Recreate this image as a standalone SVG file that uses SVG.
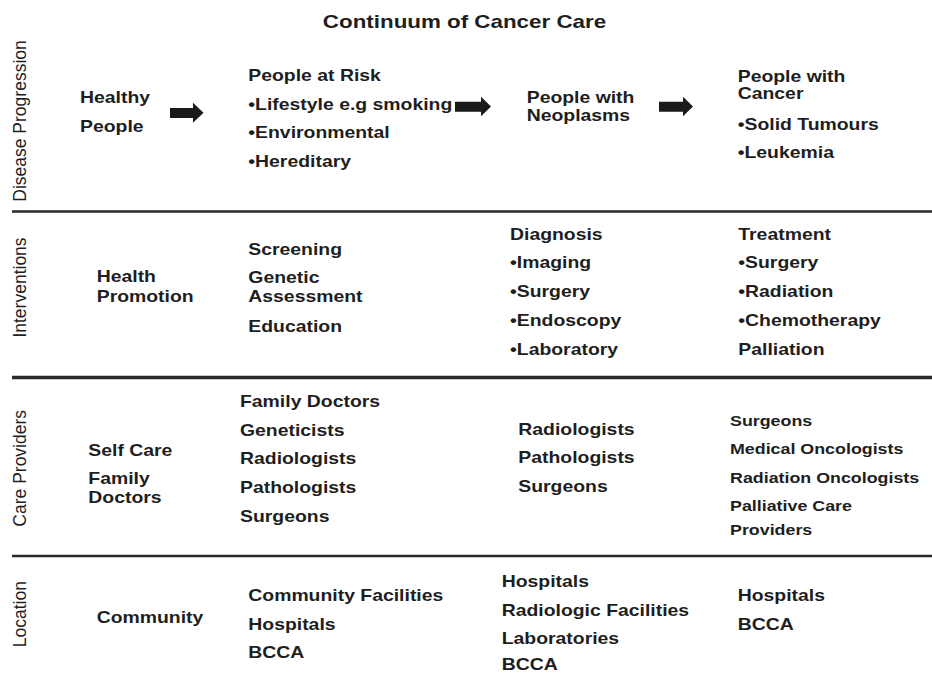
<svg xmlns="http://www.w3.org/2000/svg" width="932" height="673" viewBox="0 0 932 673">
<style>
.t{font-family:"Liberation Sans",Arial,sans-serif;font-weight:bold;font-size:16.3px;fill:#1e1e1e}
.s{font-size:15px}
.title{font-family:"Liberation Sans",Arial,sans-serif;font-weight:bold;font-size:18.8px;fill:#1e1e1e;text-anchor:middle}
.rl{font-family:"Liberation Sans",Arial,sans-serif;font-size:17.5px;fill:#1e1e1e;text-anchor:middle}
.sep{stroke:#2a2a2a;fill:none}
.arr{fill:#1a1a1a}
</style>
<rect width="932" height="673" fill="#ffffff"/>
<g id="title"><text class="title" transform="translate(464.5 28.3) scale(1.19 1)">Continuum of Cancer Care</text></g>
<g id="separators">
<line class="sep" x1="12" y1="211.5" x2="932" y2="211.5" stroke-width="2.5"/>
<line class="sep" x1="12" y1="377.5" x2="932" y2="377.5" stroke-width="3.5"/>
<line class="sep" x1="12" y1="556" x2="932" y2="556" stroke-width="2.5"/>
</g>
<g id="row-labels">
<text class="rl" transform="translate(26 121) rotate(-90)">Disease Progression</text>
<text class="rl" transform="translate(26 287.5) rotate(-90)">Interventions</text>
<text class="rl" transform="translate(26 468.3) rotate(-90)">Care Providers</text>
<text class="rl" transform="translate(26 614.2) rotate(-90)">Location</text>
</g>
<g id="healthy-people"><text class="t" transform="translate(80 102.7) scale(1.19 1)"><tspan x="0" y="0">Healthy</tspan><tspan x="0" y="29">People</tspan></text></g>
<g id="people-at-risk"><text class="t" transform="translate(248.3 81) scale(1.19 1)"><tspan x="0" y="0">People at Risk</tspan><tspan x="0" y="29">•Lifestyle e.g smoking</tspan><tspan x="0" y="57.3">•Environmental</tspan><tspan x="0" y="85.7">•Hereditary</tspan></text></g>
<g id="people-with-neoplasms"><text class="t" transform="translate(526.7 102.7) scale(1.19 1)"><tspan x="0" y="0">People with</tspan><tspan x="0" y="18">Neoplasms</tspan></text></g>
<g id="people-with-cancer"><text class="t" transform="translate(737.7 81.7) scale(1.19 1)"><tspan x="0" y="0">People with</tspan><tspan x="0" y="17.6">Cancer</tspan><tspan x="0" y="48.3">•Solid Tumours</tspan><tspan x="0" y="76.6">•Leukemia</tspan></text></g>
<g id="health-promotion"><text class="t" transform="translate(96.7 281.7) scale(1.19 1)"><tspan x="0" y="0">Health</tspan><tspan x="0" y="20">Promotion</tspan></text></g>
<g id="screening"><text class="t" transform="translate(248.3 255) scale(1.19 1)"><tspan x="0" y="0">Screening</tspan><tspan x="0" y="27.7">Genetic</tspan><tspan x="0" y="47.3">Assessment</tspan><tspan x="0" y="76.7">Education</tspan></text></g>
<g id="diagnosis"><text class="t" transform="translate(510 240) scale(1.19 1)"><tspan x="0" y="0">Diagnosis</tspan><tspan x="0" y="28.3">•Imaging</tspan><tspan x="0" y="57.3">•Surgery</tspan><tspan x="0" y="86">•Endoscopy</tspan><tspan x="0" y="115">•Laboratory</tspan></text></g>
<g id="treatment"><text class="t" transform="translate(738.3 240) scale(1.19 1)"><tspan x="0" y="0">Treatment</tspan><tspan x="0" y="28.3">•Surgery</tspan><tspan x="0" y="57.3">•Radiation</tspan><tspan x="0" y="86">•Chemotherapy</tspan><tspan x="0" y="115">Palliation</tspan></text></g>
<g id="self-care"><text class="t" transform="translate(88.3 456) scale(1.19 1)"><tspan x="0" y="0">Self Care</tspan><tspan x="0" y="28.3">Family</tspan><tspan x="0" y="47.3">Doctors</tspan></text></g>
<g id="providers-screening"><text class="t" transform="translate(240 406.7) scale(1.19 1)"><tspan x="0" y="0">Family Doctors</tspan><tspan x="0" y="29">Geneticists</tspan><tspan x="0" y="57.3">Radiologists</tspan><tspan x="0" y="86">Pathologists</tspan><tspan x="0" y="115">Surgeons</tspan></text></g>
<g id="providers-diagnosis"><text class="t" transform="translate(518.3 435) scale(1.19 1)"><tspan x="0" y="0">Radiologists</tspan><tspan x="0" y="28.3">Pathologists</tspan><tspan x="0" y="56.7">Surgeons</tspan></text></g>
<g id="providers-treatment"><text class="t s" transform="translate(730 426) scale(1.19 1)"><tspan x="0" y="0">Surgeons</tspan><tspan x="0" y="28.3">Medical Oncologists</tspan><tspan x="0" y="57.3">Radiation Oncologists</tspan><tspan x="0" y="85">Palliative Care</tspan><tspan x="0" y="109">Providers</tspan></text></g>
<g id="location-community"><text class="t" transform="translate(96.7 623.3) scale(1.19 1)">Community</text></g>
<g id="location-screening"><text class="t" transform="translate(248.3 600.7) scale(1.19 1)"><tspan x="0" y="0">Community Facilities</tspan><tspan x="0" y="29.3">Hospitals</tspan><tspan x="0" y="57.6">BCCA</tspan></text></g>
<g id="location-diagnosis"><text class="t" transform="translate(501.7 586.7) scale(1.19 1)"><tspan x="0" y="0">Hospitals</tspan><tspan x="0" y="29.3">Radiologic Facilities</tspan><tspan x="0" y="57.3">Laboratories</tspan><tspan x="0" y="83.5">BCCA</tspan></text></g>
<g id="location-treatment"><text class="t" transform="translate(737.7 601) scale(1.19 1)"><tspan x="0" y="0">Hospitals</tspan><tspan x="0" y="29">BCCA</tspan></text></g>
<g id="connectors">
<path class="arr" d="M170,108 H193 V102.7 L203.5,112.7 L193,122.7 V118 H170 Z"/>
<path class="arr" d="M455,101.7 H481 V96.7 L491,106.5 L481,116.3 V111.7 H455 Z"/>
<path class="arr" d="M659,101.7 H683 V96.7 L693,106.5 L683,116.3 V111.7 H659 Z"/>
</g>
</svg>
